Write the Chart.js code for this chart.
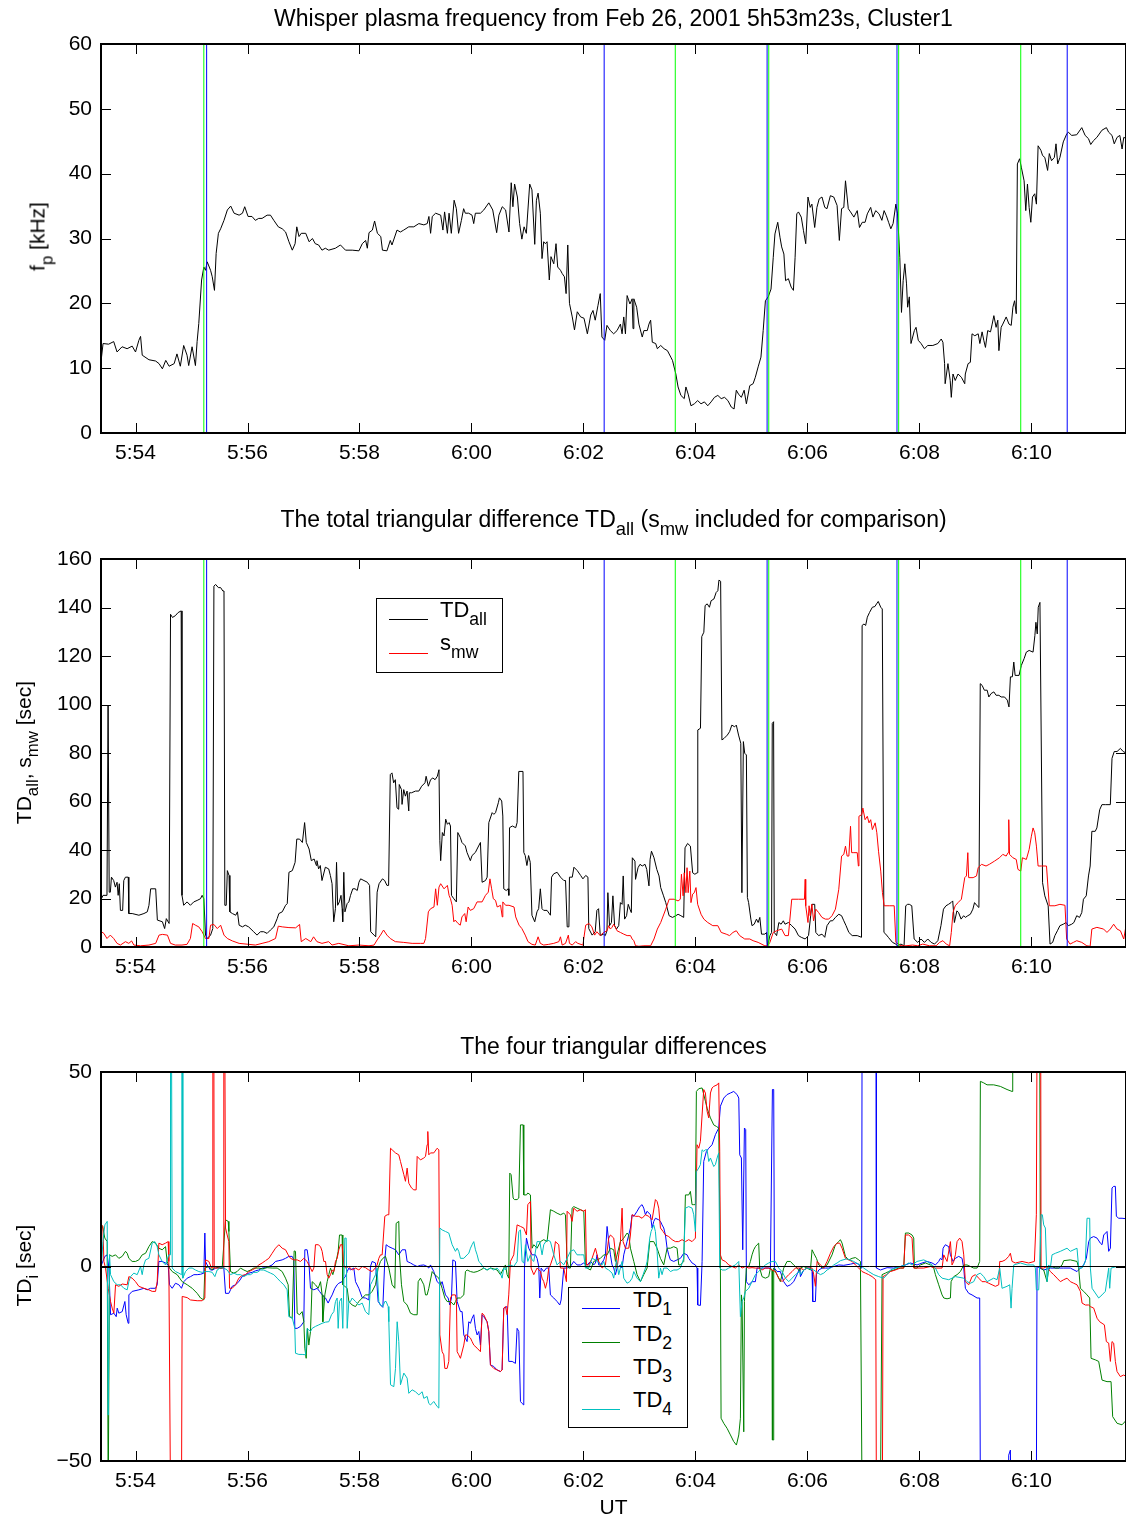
<!DOCTYPE html>
<html><head><meta charset="utf-8">
<script src="https://cdn.jsdelivr.net/npm/chart.js@4.4.1/dist/chart.umd.min.js"></script>
<style>
html,body{margin:0;padding:0;background:#fff;overflow:hidden;}
#wrap{position:relative;width:1126px;height:1520px;font-family:"Liberation Sans",Arial,Helvetica,sans-serif;color:#000;}
canvas{position:absolute;left:0;}
.t{position:absolute;white-space:nowrap;line-height:1;}
.ttl{left:101px;width:1025px;text-align:center;font-size:23px;}
.yl{width:400px;text-align:center;font-size:21px;transform:rotate(-90deg);transform-origin:50% 50%;}
sub{font-size:0.8em;vertical-align:-0.45em;line-height:0;}
.leg{position:absolute;border:1.5px solid #000;background:#fff;box-sizing:border-box;}
.ll{position:absolute;height:0;border-top:1px solid;}
.lt{position:absolute;font-size:22px;line-height:1;white-space:nowrap;}
</style></head>
<body><div id="wrap">
<canvas id="c1" width="1126" height="480" style="top:0px"></canvas>
<canvas id="c2" width="1126" height="500" style="top:490px"></canvas>
<canvas id="c3" width="1126" height="520" style="top:1000px"></canvas>

<div class="t ttl" style="top:7px">Whisper plasma frequency from Feb 26, 2001 5h53m23s, Cluster1</div>
<div class="t ttl" style="top:508px">The total triangular difference TD<sub>all</sub> (s<sub>mw</sub> included for comparison)</div>
<div class="t ttl" style="top:1035px">The four triangular differences</div>
<div class="t" style="left:101px;width:1025px;text-align:center;font-size:21px;top:1496px">UT</div>

<div class="t yl" style="left:-163px;top:226px">f<sub>p</sub> [kHz]</div>
<div class="t yl" style="left:-177px;top:742px">TD<sub>all</sub>, s<sub>mw</sub> [sec]</div>
<div class="t yl" style="left:-177px;top:1255px">TD<sub>i</sub> [sec]</div>

<div class="leg" style="left:376px;top:598px;width:127px;height:75px"></div>
<div class="ll" style="left:389px;width:39px;top:619px;border-color:#000"></div>
<div class="ll" style="left:389px;width:39px;top:653px;border-color:#ff0000"></div>
<div class="lt" style="left:440px;top:599px">TD<sub>all</sub></div>
<div class="lt" style="left:440px;top:632px">s<sub>mw</sub></div>

<div class="leg" style="left:568px;top:1287px;width:120px;height:141px"></div>
<div class="ll" style="left:582px;width:38px;top:1308px;border-color:#0000ff"></div>
<div class="ll" style="left:582px;width:38px;top:1342px;border-color:#008000"></div>
<div class="ll" style="left:582px;width:38px;top:1376px;border-color:#ff0000"></div>
<div class="ll" style="left:582px;width:38px;top:1409px;border-color:#00bfbf"></div>
<div class="lt" style="left:633px;top:1289px">TD<sub>1</sub></div>
<div class="lt" style="left:633px;top:1323px">TD<sub>2</sub></div>
<div class="lt" style="left:633px;top:1356px">TD<sub>3</sub></div>
<div class="lt" style="left:633px;top:1389px">TD<sub>4</sub></div>
</div>
<script>
// time axis: minutes after 5:54:00 UT
const X_MIN = -37/60, X_MAX = 17.69;
const xTickPos = [0,2,4,6,8,10,12,14,16];
const xTickLabels = ['5:54','5:56','5:58','6:00','6:02','6:04','6:06','6:08','6:10'];
const fpTicks = [0,10,20,30,40,50,60];
const tdAllTicks = [0,20,40,60,80,100,120,140,160];
const tdiTicks = [-50,0,50];
const blueMarks = [1.27, 8.37, 11.28, 13.60, 16.64];
const greenMarks = [1.22, 9.64, 11.31, 13.63, 15.81];

const fpData = [[-0.61,11.5],[-0.58,13.8],[-0.48,13.7],[-0.39,14.1],[-0.33,12.5],[-0.24,13.3],[-0.15,13.0],[-0.06,13.4],[0,12.5],[0.06,14.3],[0.09,14.9],[0.12,12.0],[0.24,11.3],[0.36,11.1],[0.42,10.7],[0.48,9.9],[0.54,11.2],[0.60,10.3],[0.69,10.7],[0.74,12.2],[0.80,10.3],[0.86,13.5],[0.92,12.0],[0.95,10.4],[1.01,13.3],[1.07,10.4],[1.10,14.1],[1.13,16.9],[1.18,23.6],[1.22,25.6],[1.25,25.1],[1.28,26.4],[1.34,25.1],[1.37,24.1],[1.41,22.0],[1.44,27.7],[1.48,30.8],[1.52,31.5],[1.58,32.8],[1.64,34.4],[1.70,35.0],[1.76,33.9],[1.85,33.6],[1.91,33.9],[1.95,34.9],[2.01,33.4],[2.08,33.4],[2.14,32.8],[2.20,33.1],[2.26,33.1],[2.35,33.6],[2.41,33.6],[2.47,32.8],[2.55,31.8],[2.62,31.5],[2.68,31.0],[2.74,29.5],[2.80,28.2],[2.85,29.2],[2.88,31.8],[2.92,30.3],[2.96,30.8],[3.04,30.8],[3.10,29.5],[3.16,30.0],[3.21,29.2],[3.27,29.0],[3.33,28.2],[3.39,28.5],[3.45,28.2],[3.57,28.5],[3.66,29.0],[3.75,28.2],[3.87,28.2],[3.99,28.1],[4.05,29.2],[4.11,29.7],[4.14,28.5],[4.17,30.9],[4.23,31.3],[4.27,32.7],[4.32,30.8],[4.38,30.3],[4.41,28.2],[4.49,28.1],[4.55,29.7],[4.58,29.0],[4.67,31.3],[4.73,31.0],[4.79,31.3],[4.88,31.8],[4.97,31.8],[5.06,32.3],[5.15,32.1],[5.21,32.3],[5.24,33.4],[5.27,30.8],[5.30,33.4],[5.36,33.9],[5.45,33.6],[5.49,31.3],[5.52,34.1],[5.57,30.8],[5.60,33.9],[5.64,30.8],[5.69,35.9],[5.73,34.6],[5.77,30.8],[5.82,32.8],[5.86,34.6],[5.89,33.9],[5.95,33.9],[6.01,33.6],[6.04,32.3],[6.07,33.9],[6.16,33.9],[6.22,34.4],[6.31,35.5],[6.38,34.4],[6.45,30.9],[6.49,33.6],[6.55,34.9],[6.61,34.4],[6.67,31.0],[6.71,38.6],[6.74,34.9],[6.77,38.4],[6.82,36.4],[6.86,32.3],[6.90,29.9],[6.94,31.8],[6.98,30.8],[7.04,38.4],[7.08,37.5],[7.13,29.1],[7.16,35.9],[7.19,37.0],[7.23,33.9],[7.26,26.9],[7.29,29.5],[7.32,29.2],[7.35,29.5],[7.39,23.6],[7.42,27.2],[7.47,26.1],[7.51,29.2],[7.54,25.6],[7.59,25.1],[7.62,24.6],[7.66,24.1],[7.69,21.5],[7.72,29.0],[7.75,20.0],[7.80,17.9],[7.84,15.9],[7.89,18.7],[7.95,17.9],[8.01,17.7],[8.07,15.3],[8.13,18.2],[8.17,18.9],[8.21,17.4],[8.26,19.7],
[8.30,21.5],[8.33,14.8],[8.38,14.3],[8.42,16.6],[8.48,15.8],[8.54,15.3],[8.60,15.8],[8.66,16.8],[8.69,15.3],[8.72,17.9],[8.75,15.3],[8.78,21.2],[8.83,19.9],[8.87,20.7],[8.885,16.1],[8.90,20.7],[8.95,19.4],[8.99,16.8],[9.05,14.8],[9.08,15.8],[9.14,15.8],[9.17,16.8],[9.20,17.4],[9.23,14.0],[9.29,13.8],[9.32,13.0],[9.38,13.5],[9.44,13.0],[9.50,12.7],[9.56,11.7],[9.59,11.2],[9.65,9.1],[9.69,7.1],[9.74,5.8],[9.80,5.3],[9.83,7.1],[9.87,6.0],[9.92,4.2],[9.98,4.5],[10.04,5.0],[10.10,4.5],[10.16,4.8],[10.22,4.2],[10.28,4.8],[10.34,5.5],[10.40,5.8],[10.46,5.3],[10.52,5.5],[10.58,5.0],[10.64,4.0],[10.69,3.7],[10.73,6.6],[10.77,6.0],[10.82,5.5],[10.87,6.6],[10.91,4.5],[10.97,7.3],[11.03,7.6],[11.07,8.6],[11.12,10.2],[11.17,11.7],[11.21,15.8],[11.25,20.4],[11.30,21.0],[11.35,22.2],[11.39,27.1],[11.42,30.7],[11.47,32.5],[11.51,30.2],[11.54,28.7],[11.58,27.6],[11.61,23.5],[11.66,23.8],[11.71,22.5],[11.75,22.0],[11.78,27.1],[11.81,33.8],[11.84,34.1],[11.89,33.3],[11.93,31.2],[11.97,29.2],[12.01,36.4],[12.05,34.8],[12.08,35.3],[12.13,31.7],[12.17,34.8],[12.21,36.1],[12.26,36.4],[12.31,34.8],[12.35,34.6],[12.41,36.6],[12.47,36.4],[12.53,35.1],[12.57,29.7],[12.61,34.6],[12.65,34.8],[12.68,38.9],[12.73,34.6],[12.77,34.1],[12.83,33.3],[12.89,34.3],[12.93,31.7],[12.98,32.5],[13.03,32.5],[13.07,33.8],[13.13,34.8],[13.17,33.3],[13.22,34.3],[13.28,33.8],[13.33,32.8],[13.37,34.3],[13.41,33.5],[13.45,32.5],[13.49,31.5],[13.53,32.3],[13.58,35.3],[13.61,33.8],[13.65,27.1],[13.68,18.6],[13.71,23.5],[13.74,26.1],[13.77,23.0],[13.79,19.4],[13.82,21.0],[13.85,13.8],[13.91,15.8],[13.94,16.3],[13.98,14.3],[14.03,13.8],[14.09,13.0],[14.15,13.5],[14.24,13.5],[14.33,13.8],[14.39,14.5],[14.42,14.0],[14.45,10.7],[14.46,7.6],[14.51,10.7],[14.55,8.1],[14.57,5.5],[14.60,9.1],[14.64,8.1],[14.69,9.1],[14.75,8.6],[14.81,7.6],[14.82,9.1],[14.87,10.7],[14.91,10.9],[14.94,15.3],[14.99,15.0],[15.05,15.3],[15.08,13.8],[15.12,15.6],[15.15,14.3],[15.18,13.2],[15.22,15.8],[15.27,15.6],[15.30,16.8],[15.33,18.1],[15.37,16.3],[15.40,17.4],[15.42,12.7],[15.46,16.3],[15.49,16.8],[15.55,17.9],[15.60,16.8],[15.64,16.6],[15.67,19.4],[15.70,20.4],[15.73,18.4],[15.75,41.5],[15.79,42.3],[15.82,41.0],[15.87,38.9],[15.90,34.3],[15.93,38.4],[15.96,34.8],[15.99,32.5],[16.02,36.4],[16.06,36.9],[16.09,35.3],[16.12,44.3],[16.17,43.6],[16.20,42.8],[16.24,42.5],[16.29,40.5],[16.32,43.1],[16.36,42.0],[16.41,42.5],[16.44,44.6],[16.47,41.5],[16.51,42.5],[16.57,44.9],[16.63,46.1],[16.66,46.4],[16.72,45.9],[16.81,46.0],[16.90,47.1],[16.96,45.9],[17.02,45.4],[17.06,44.5],[17.11,45.1],[17.17,45.6],[17.26,46.7],[17.34,47.1],[17.38,46.4],[17.44,45.9],[17.48,44.6],[17.53,45.6],[17.58,45.9],[17.62,43.8],[17.65,45.6],[17.70,45.4]];

const tdAllData = [[-0.61,19.9],[-0.58,21.3],[-0.51,21.3],[-0.49,99.7],[-0.48,99.7],[-0.47,22.6],[-0.45,22.6],[-0.43,28.8],[-0.39,27.4],[-0.36,24.7],[-0.33,26.7],[-0.31,21.3],[-0.29,26.1],[-0.27,15.1],[-0.23,15.1],[-0.21,27.4],[-0.18,28.8],[-0.13,28.8],[-0.12,13.8],[-0.06,13.8],[0.06,13.1],[0.15,13.8],[0.21,14.5],[0.24,17.2],[0.27,24.0],[0.36,24.0],[0.39,11.1],[0.48,10.4],[0.52,7.6],[0.55,11.7],[0.60,9.7],[0.625,137.2],[0.66,135.9],[0.71,136.6],[0.76,137.9],[0.815,138.6],[0.83,21.3],[0.86,17.2],[0.92,18.6],[0.98,17.2],[1.04,18.6],[1.10,19.2],[1.16,19.9],[1.19,21.3],[1.22,19.9],[1.25,4.9],[1.28,3.5],[1.34,4.9],[1.38,7.6],[1.40,148.8],[1.43,149.5],[1.48,148.2],[1.52,148.2],[1.56,146.8],[1.58,146.8],[1.595,17.2],[1.62,17.2],[1.64,31.5],[1.67,29.5],[1.685,14.5],[1.73,13.8],[1.79,13.1],[1.82,14.5],[1.85,9.0],[1.91,8.3],[1.96,9.0],[2.02,8.3],[2.11,6.3],[2.17,4.9],[2.23,6.3],[2.29,6.3],[2.35,5.6],[2.41,7.0],[2.47,8.3],[2.53,11.7],[2.56,13.8],[2.62,14.5],[2.68,17.2],[2.71,17.9],[2.74,30.8],[2.80,31.5],[2.85,34.9],[2.88,44.5],[2.93,44.5],[2.98,43.1],[3.02,51.3],[3.05,43.1],[3.10,40.4],[3.14,35.6],[3.19,36.3],[3.23,33.6],[3.24,35.6],[3.27,32.2],[3.30,33.6],[3.33,27.4],[3.39,32.9],[3.45,32.2],[3.48,29.5],[3.51,26.1],[3.54,10.4],[3.57,15.8],[3.59,34.9],[3.61,17.2],[3.64,18.6],[3.67,21.3],[3.69,15.8],[3.70,10.4],[3.72,30.8],[3.74,14.5],[3.78,17.9],[3.81,18.6],[3.84,21.3],[3.88,24.0],[3.92,24.0],[3.96,23.3],[3.99,26.7],[4.02,28.1],[4.08,27.4],[4.14,26.7],[4.18,25.4],[4.20,6.3],[4.26,4.9],[4.29,4.2],[4.315,22.6],[4.35,26.1],[4.41,28.1],[4.45,27.4],[4.49,25.4],[4.52,25.4],[4.55,71.1],[4.58,71.8],[4.61,67.7],[4.64,69.0],[4.67,57.4],[4.70,56.8],[4.71,67.0],[4.75,64.9],[4.76,58.8],[4.79,64.9],[4.82,62.2],[4.85,64.3],[4.88,56.1],[4.89,63.6],[4.93,63.6],[5.00,64.3],[5.06,64.3],[5.11,66.3],[5.17,67.7],[5.19,70.4],[5.23,66.3],[5.27,69.0],[5.31,69.7],[5.35,69.0],[5.39,70.4],[5.42,73.1],[5.435,43.8],[5.45,35.6],[5.48,47.2],[5.51,45.8],[5.54,52.7],[5.57,50.6],[5.60,51.3],[5.625,49.9],[5.643,21.3],[5.685,19.9],[5.73,18.6],[5.756,47.2],[5.80,45.2],[5.83,43.1],[5.89,41.7],[5.92,39.0],[5.98,35.6],[6.01,37.7],[6.07,39.0],[6.10,40.4],[6.16,43.1],[6.19,26.7],[6.25,27.4],[6.28,28.8],[6.31,51.3],[6.37,55.4],[6.40,54.7],[6.43,55.4],[6.48,59.5],[6.50,61.5],[6.54,60.2],[6.56,54.0],[6.577,24.0],[6.62,23.3],[6.655,24.0],[6.667,21.3],[6.68,49.2],[6.73,49.9],[6.79,49.2],[6.815,51.3],[6.845,72.4],[6.92,72.4],[6.935,39.0],[6.96,37.7],[6.99,33.6],[7.02,37.7],[7.05,34.9],[7.08,13.1],[7.13,10.4],[7.17,14.5],[7.20,15.8],[7.23,24.0],[7.26,15.8],[7.29,15.1],[7.35,15.1],[7.41,13.1],[7.43,28.8],[7.47,30.2],[7.53,30.8],[7.59,28.8],[7.65,27.4],[7.68,27.4],[7.71,8.3],[7.74,8.3],[7.75,28.8],[7.80,28.8],[7.83,32.9],[7.89,31.5],[7.95,29.5],[7.99,28.1],[8.04,29.5],[8.08,28.8],[8.095,7.6],[8.155,4.9],[8.21,6.3],[8.24,15.1],[8.27,15.8],
[8.30,4.7],[8.36,5.3],[8.39,4.7],[8.42,6.7],[8.436,22.4],[8.466,8.8],[8.50,10.1],[8.526,21.1],[8.556,8.8],[8.59,7.4],[8.63,8.8],[8.66,18.3],[8.69,17.6],[8.71,29.3],[8.735,11.5],[8.77,12.9],[8.80,17.6],[8.83,15.6],[8.855,14.2],[8.873,36.8],[8.92,35.4],[8.93,27.9],[8.975,32.7],[9.01,34.1],[9.05,33.4],[9.10,34.1],[9.13,32.0],[9.17,25.2],[9.19,36.1],[9.215,39.5],[9.26,36.8],[9.31,32.0],[9.35,29.3],[9.38,24.5],[9.43,21.1],[9.47,18.3],[9.53,12.9],[9.59,12.2],[9.65,12.9],[9.69,13.5],[9.74,12.9],[9.79,12.2],[9.814,40.9],[9.86,42.7],[9.91,41.6],[9.95,30.6],[9.99,30.0],[10.03,30.6],[10.042,89.5],[10.09,90.2],[10.113,128.0],[10.15,129.8],[10.173,140.8],[10.21,141.5],[10.25,140.1],[10.28,142.8],[10.33,143.5],[10.37,146.2],[10.40,146.9],[10.42,151.3],[10.45,150.8],[10.473,85.4],[10.51,86.0],[10.57,87.4],[10.61,88.8],[10.65,91.5],[10.70,90.8],[10.73,91.5],[10.77,87.4],[10.81,84.0],[10.83,22.4],[10.856,84.7],[10.88,79.9],[10.91,79.2],[10.928,20.4],[10.95,18.3],[10.99,11.5],[11.01,8.8],[11.05,9.4],[11.09,11.5],[11.12,10.1],[11.15,12.2],[11.18,5.3],[11.24,5.3],[11.27,6.0],[11.288,0.3],[11.33,4.7],[11.36,6.0],[11.372,92.2],[11.396,92.9],[11.408,6.0],[11.45,4.7],[11.49,10.1],[11.53,9.4],[11.57,10.8],[11.60,9.4],[11.66,10.1],[11.72,8.8],[11.78,7.4],[11.84,4.7],[11.89,4.0],[11.96,3.3],[12.02,4.7],[12.08,17.6],[12.13,17.6],[12.15,6.0],[12.20,4.7],[12.26,5.3],[12.31,4.0],[12.35,8.8],[12.41,10.8],[12.45,10.8],[12.50,12.2],[12.56,13.5],[12.61,12.9],[12.65,10.8],[12.69,8.8],[12.74,6.0],[12.80,4.7],[12.89,4.7],[12.966,4.0],[12.977,132.6],[13.01,133.2],[13.04,132.6],[13.07,136.0],[13.11,138.0],[13.16,140.1],[13.205,140.4],[13.235,141.5],[13.265,142.5],[13.31,140.1],[13.337,139.4],[13.367,6.0],[13.40,5.3],[13.445,4.0],[13.52,1.9],[13.58,1.2],[13.61,0.5],[13.67,1.2],[13.726,0.5],[13.756,17.0],[13.79,17.6],[13.82,17.6],[13.864,17.0],[13.906,3.3],[13.97,1.9],[14.03,3.3],[14.09,1.9],[14.15,3.3],[14.21,1.9],[14.27,1.2],[14.33,2.6],[14.385,8.8],[14.43,15.6],[14.475,17.0],[14.52,17.6],[14.565,18.3],[14.595,19.0],[14.625,10.1],[14.67,14.9],[14.70,14.2],[14.745,11.5],[14.79,12.9],[14.82,12.2],[14.865,12.9],[14.91,13.5],[14.955,15.6],[14.985,18.3],[15.03,17.0],[15.063,16.3],[15.087,108.6],[15.12,107.9],[15.16,105.9],[15.21,105.9],[15.24,103.1],[15.28,104.5],[15.33,105.2],[15.37,103.8],[15.42,103.8],[15.46,103.1],[15.52,103.1],[15.57,101.8],[15.60,99.0],[15.626,111.4],[15.66,111.4],[15.686,117.5],[15.71,112.0],[15.78,112.0],[15.82,116.1],[15.87,118.9],[15.91,121.6],[15.96,122.3],[16.03,121.6],[16.063,128.5],[16.081,133.9],[16.105,129.1],[16.123,140.1],[16.153,142.1],[16.20,26.5],[16.24,21.1],[16.30,17.0],[16.333,1.2],[16.38,1.9],[16.42,4.7],[16.465,6.7],[16.51,8.8],[16.57,9.4],[16.62,10.1],[16.66,8.8],[16.72,9.4],[16.76,10.1],[16.81,12.9],[16.86,12.2],[16.90,14.2],[16.93,19.7],[16.98,21.1],[17.02,29.3],[17.05,33.4],[17.08,47.7],[17.14,47.7],[17.17,49.1],[17.22,56.6],[17.26,58.7],[17.32,58.7],[17.41,58.7],[17.44,77.8],[17.48,80.6],[17.53,80.6],[17.59,81.9],[17.64,80.6],[17.70,79.9]];

const smwData = [[-0.61,6.3],[-0.565,5.6],[-0.51,3.5],[-0.45,4.9],[-0.39,3.5],[-0.33,1.5],[-0.27,0.8],[-0.18,2.2],[-0.12,1.5],[-0.07,2.5],[-0.03,0.8],[0.09,0.5],[0.24,0.8],[0.36,1.5],[0.42,4.9],[0.48,5.2],[0.57,4.9],[0.625,1.5],[0.71,0.8],[0.83,0.8],[0.92,1.1],[0.98,3.5],[1.02,9.7],[1.07,9.0],[1.13,8.3],[1.19,6.3],[1.25,3.5],[1.31,3.5],[1.34,9.0],[1.40,9.3],[1.46,7.6],[1.52,9.0],[1.58,4.9],[1.64,3.5],[1.73,2.5],[1.85,1.5],[2.02,1.1],[2.14,0.8],[2.26,1.5],[2.38,2.2],[2.50,3.5],[2.55,8.6],[2.62,8.3],[2.74,8.0],[2.86,7.9],[2.93,9.3],[2.96,2.2],[3.04,3.5],[3.13,2.2],[3.18,4.2],[3.24,2.2],[3.33,1.5],[3.45,2.2],[3.51,0.8],[3.63,1.5],[3.81,0.5],[3.99,0.8],[4.17,0.5],[4.26,0.8],[4.315,2.9],[4.375,4.9],[4.43,7.0],[4.49,4.9],[4.55,3.5],[4.64,2.2],[4.79,1.9],[4.94,1.5],[5.09,1.5],[5.15,1.5],[5.18,3.5],[5.23,14.5],[5.27,15.8],[5.33,16.5],[5.36,24.0],[5.39,17.2],[5.42,24.7],[5.45,26.1],[5.51,24.0],[5.57,25.4],[5.60,21.3],[5.625,19.9],[5.655,17.2],[5.685,10.4],[5.71,11.1],[5.76,9.7],[5.80,9.0],[5.83,12.4],[5.88,13.8],[5.905,10.4],[5.94,16.5],[5.98,15.1],[6.04,15.8],[6.10,18.6],[6.19,18.6],[6.25,21.3],[6.30,22.6],[6.33,28.1],[6.36,24.0],[6.39,19.9],[6.43,19.2],[6.46,16.5],[6.52,17.2],[6.55,12.4],[6.56,18.6],[6.61,17.2],[6.67,17.2],[6.76,16.5],[6.79,12.4],[6.85,9.0],[6.90,7.6],[6.96,4.9],[7.01,2.2],[7.08,1.1],[7.14,0.8],[7.19,4.2],[7.23,1.5],[7.29,0.8],[7.38,1.1],[7.47,1.5],[7.56,2.2],[7.59,4.2],[7.62,0.8],[7.68,1.5],[7.73,4.9],[7.75,1.5],[7.80,0.8],[7.86,2.2],[7.90,1.5],[7.99,0.8],[8.04,9.0],[8.10,9.7],[8.15,8.3],[8.20,4.9],[8.24,6.3],
[8.30,4.7],[8.36,6.0],[8.42,6.7],[8.45,8.8],[8.48,7.4],[8.51,8.1],[8.54,9.4],[8.57,8.1],[8.60,6.7],[8.66,6.0],[8.72,5.3],[8.78,4.7],[8.84,4.7],[8.87,3.3],[8.90,2.6],[8.93,0.5],[8.99,0.3],[9.08,0.5],[9.20,0.5],[9.26,3.3],[9.32,7.4],[9.38,10.1],[9.47,15.6],[9.53,19.7],[9.62,19.7],[9.69,19.0],[9.73,19.7],[9.75,30.0],[9.78,21.1],[9.80,30.6],[9.83,22.4],[9.85,32.7],[9.87,22.4],[9.90,31.3],[9.92,18.3],[9.95,21.8],[9.98,22.4],[10.01,24.5],[10.04,17.6],[10.10,13.5],[10.15,11.5],[10.22,10.1],[10.31,8.8],[10.40,8.8],[10.46,6.0],[10.55,5.3],[10.61,4.7],[10.67,6.0],[10.73,6.7],[10.79,4.7],[10.88,3.3],[10.97,3.3],[11.03,2.6],[11.12,1.9],[11.24,0.5],[11.29,0.5],[11.33,1.9],[11.39,6.0],[11.45,6.7],[11.54,7.4],[11.60,4.7],[11.66,4.7],[11.72,19.7],[11.84,19.7],[11.947,19.7],[11.96,27.9],[11.97,17.0],[12.01,10.1],[12.03,17.0],[12.05,12.9],[12.08,17.6],[12.11,10.8],[12.15,15.6],[12.20,14.2],[12.26,12.2],[12.32,11.5],[12.38,11.5],[12.44,12.9],[12.50,15.6],[12.56,23.8],[12.61,37.5],[12.65,38.2],[12.68,41.6],[12.71,37.5],[12.74,37.5],[12.77,49.8],[12.79,38.9],[12.83,38.9],[12.89,38.9],[12.91,33.4],[12.92,53.9],[12.97,54.6],[12.99,57.3],[13.03,52.5],[13.07,53.9],[13.10,51.2],[13.13,52.5],[13.16,48.4],[13.21,51.2],[13.24,47.1],[13.27,39.5],[13.31,31.3],[13.34,22.4],[13.37,17.0],[13.46,17.0],[13.55,17.0],[13.58,1.9],[13.67,0.5],[13.76,0.5],[13.88,0.8],[13.97,0.5],[14.06,1.2],[14.18,0.5],[14.30,0.5],[14.36,1.9],[14.42,2.6],[14.48,1.2],[14.54,0.5],[14.57,6.0],[14.60,14.2],[14.64,17.0],[14.69,18.3],[14.75,19.7],[14.81,28.6],[14.84,29.3],[14.865,38.9],[14.88,28.6],[14.96,28.6],[15.02,29.3],[15.05,32.7],[15.11,34.1],[15.19,33.4],[15.25,34.1],[15.34,35.4],[15.43,36.8],[15.49,38.2],[15.55,37.5],[15.584,38.9],[15.596,52.5],[15.61,38.2],[15.67,36.8],[15.73,36.1],[15.76,32.0],[15.81,31.3],[15.84,36.8],[15.91,36.1],[15.96,40.2],[16.00,45.7],[16.03,49.1],[16.06,47.1],[16.09,41.6],[16.12,33.4],[16.18,33.4],[16.27,33.4],[16.32,17.0],[16.42,17.0],[16.51,17.6],[16.60,17.2],[16.63,3.3],[16.69,1.2],[16.75,1.9],[16.81,2.6],[16.90,1.9],[16.99,0.5],[17.05,0.3],[17.08,7.4],[17.17,8.1],[17.29,7.4],[17.35,6.0],[17.41,7.4],[17.47,9.4],[17.53,7.4],[17.59,6.7],[17.65,3.3],[17.68,7.4]];

const td1Data = [[-0.607,0.4],[-0.595,0.9],[-0.548,2.6],[-0.506,3.0],[-0.476,-0.4],[-0.446,-12.4],[-0.387,-12.0],[-0.345,-12.9],[-0.327,-10.7],[-0.298,-12.0],[-0.238,-11.6],[-0.190,-9.0],[-0.167,-12.4],[-0.131,-14.6],[-0.119,-7.3],[-0.060,-6.4],[0.060,-6.0],[0.149,-5.6],[0.208,-6.0],[0.268,-5.6],[0.357,-5.6],[0.387,-4.7],[0.417,1.3],[0.476,1.3],[0.536,0.9],[0.583,0.4],[0.607,-4.7],[0.655,-5.6],[0.714,-4.3],[0.774,-4.7],[0.821,-5.6],[0.863,-3.9],[0.923,-3.0],[0.982,-2.6],[1.042,-2.1],[1.101,-2.1],[1.161,-2.0],[1.220,-1.7],[1.238,8.6],[1.250,1.3],[1.280,0.4],[1.339,-0.9],[1.381,-0.9],[1.429,-0.4],[1.476,-0.3],[1.518,-0.4],[1.577,-0.3],[1.607,-6.9],[1.667,-6.9],[1.696,-6.0],[1.726,-5.1],[1.786,-4.7],[1.845,-3.9],[1.905,-2.6],[1.964,-2.1],[2.024,-1.7],[2.083,-1.5],[2.143,-1.1],[2.202,-0.9],[2.262,-0.4],[2.321,-0.3],[2.381,0],[2.440,0.4],[2.500,1.3],[2.560,1.5],[2.619,1.7],[2.679,2.1],[2.738,2.6],[2.798,2.6],[2.827,1.7],[2.845,-15.9],[2.887,-15.9],[2.946,-15.4],[3.006,-14.2],[3.024,4.3],[3.065,4.3],[3.095,1.3],[3.125,-5.6],[3.185,-6.0],[3.244,-5.6],[3.286,-6.4],[3.333,-7.3],[3.393,-8.1],[3.440,-9.4],[3.482,-8.1],[3.512,-7.3],[3.560,-5.6],[3.601,-4.7],[3.631,-4.3],[3.690,-3.9],[3.720,-3.0],[3.750,-2.6],[3.780,-1.3],[3.810,-0.4],[3.839,-0.9],[3.899,-0.4],[3.929,-3.9],[3.988,-5.6],[4.048,-8.0],[4.107,-8.1],[4.167,-8.6],[4.196,0],[4.226,1.3],[4.286,0.9],[4.333,-9.0],[4.375,-9.9],[4.417,-10.5],[4.452,1.7],[4.476,5.6],[4.524,5.1],[4.583,4.7],[4.643,4.3],[4.702,3.0],[4.762,4.3],[4.821,4.3],[4.851,1.3],[4.911,0.9],[4.970,0.4],[5.030,0],[5.089,0.3],[5.149,0.4],[5.208,0],[5.238,-0.4],[5.268,0.4],[5.327,-1.3],[5.387,-3.9],[5.446,-4.7],[5.476,-3.9],[5.506,-5.6],[5.536,-7.3],[5.583,-8.1],[5.613,-9.9],[5.643,-8.1],[5.667,1.7],[5.714,1.3],
[5.744,-9.0],[5.803,-11.6],[5.833,-11.6],[5.863,-17.6],[5.922,-19.3],[5.952,-14.2],[5.982,-14.6],[6.011,-13.3],[6.041,-12.4],[6.071,-15.9],[6.101,-17.6],[6.131,-16.7],[6.160,-20.2],[6.190,-12.4],[6.220,-12.9],[6.279,-14.2],[6.309,-16.7],[6.339,-25.3],[6.398,-25.7],[6.458,-26.6],[6.517,-27.0],[6.547,-26.6],[6.577,-10.7],[6.637,-10.3],[6.666,-24.4],[6.726,-24.4],[6.785,-24.9],[6.815,-15.9],[6.845,-16.7],[6.875,-34.7],[6.904,-35.2],[6.934,-35.6],[6.946,-0.4],[6.982,7.3],[7.023,4.7],[7.083,3.0],[7.142,3.0],[7.172,2.1],[7.202,0],[7.220,-8.1],[7.244,-0.4],[7.291,-1.3],[7.339,-0.4],[7.380,-0.4],[7.410,-7.3],[7.470,-8.1],[7.529,-9.0],[7.577,-9.9],[7.601,-8.6],[7.648,-0.4],[7.708,-0.4],[7.767,0],[7.827,1.3],[7.886,0.4],[7.946,0.4],[8.006,0.9],[8.065,0.4],[8.125,1.3],[8.184,0.4],[8.214,0.9],[8.244,3.0],[8.273,0.4],[8.303,0.4],[8.363,1.7],[8.392,3.0],[8.422,10.3],[8.452,6.4],[8.482,3.0],[8.511,0.4],[8.541,-0.4],[8.571,-2.1],[8.601,-0.4],[8.660,0.4],[8.690,-0.4],[8.720,3.0],[8.779,6.4],[8.809,8.1],[8.839,9.9],[8.869,13.3],[8.899,12.9],[8.958,14.2],[9.006,15.4],[9.047,15.9],[9.077,15.0],[9.107,13.3],[9.137,14.2],[9.196,13.3],[9.226,9.9],[9.256,11.6],[9.285,12.4],[9.345,12.0],[9.375,11.6],[9.404,10.7],[9.434,9.9],[9.464,8.1],[9.494,4.7],[9.523,3.0],[9.553,1.7],[9.613,1.3],[9.672,1.7],[9.732,2.1],[9.791,3.4],[9.851,3.0],[9.880,2.1],[9.940,0.9],[9.999,0.4],[10.029,-0.4],[10.041,-9.9],[10.089,-10.0],[10.119,1.3],[10.148,27.0],[10.196,29.6],[10.238,30.4],[10.297,31.3],[10.357,33.9],[10.416,35.6],[10.446,41.2],[10.506,43.3],[10.565,44.2],[10.625,44.6],[10.684,45.0],[10.744,44.2],[10.774,43.3],[10.791,28.7],[10.821,27.9],[10.845,4.3],[10.875,35.6],[10.898,35.2],[10.910,-3.9],[10.952,-4.7],[11.011,-3.9],[11.071,-3.9],[11.101,-0.4],[11.160,-0.4],[11.220,-0.4],[11.279,-0.4],[11.339,-0.4],[11.375,45.5],[11.398,45.5],[11.410,-0.4],[11.458,-1.3],[11.517,-1.3],[11.577,-3.9],[11.636,-5.1],[11.696,-4.7],[11.755,-3.9],[11.815,-2.1],[11.863,-0.4],
[11.875,-2.6],[11.935,-0.9],[11.994,-0.4],[12.054,-0.4],[12.083,-1.3],[12.095,-9.0],[12.143,-9.0],[12.161,-2.1],[12.203,-0.9],[12.262,-0.4],[12.322,-0.4],[12.381,-0.4],[12.470,0],[12.560,0.4],[12.649,0.3],[12.768,0.6],[12.857,0.9],[12.917,0.6],[12.947,-0.4],[12.970,-0.4],[12.976,60],[13.226,60],[13.232,-0.4],[13.304,-0.9],[13.423,-0.3],[13.542,-0.4],[13.661,0],[13.750,0.4],[13.839,0.9],[13.958,0.4],[14.048,0.9],[14.137,1.3],[14.226,0.9],[14.286,0.4],[14.345,1.3],[14.375,2.1],[14.405,1.7],[14.423,4.7],[14.464,5.6],[14.524,5.1],[14.554,3.0],[14.601,1.3],[14.643,2.1],[14.702,2.6],[14.762,2.1],[14.792,-0.4],[14.821,-5.6],[14.881,-6.9],[14.940,-7.3],[15.030,-8.1],[15.077,-8.1],[15.089,-60],[15.583,-60],[15.595,-48.5],[15.625,-47.2],[15.637,-60],[16.089,-60],[16.101,0],[16.220,-0.9],[16.339,-0.4],[16.458,-0.4],[16.577,-0.4],[16.696,-0.4],[16.815,-1.3],[16.875,-0.4],[16.935,0.4],[16.982,2.1],[17.024,6.4],[17.054,7.3],[17.113,7.7],[17.173,7.3],[17.232,6.0],[17.262,5.6],[17.292,8.1],[17.351,9.0],[17.381,3.9],[17.411,4.7],[17.440,20.2],[17.470,20.6],[17.500,20.6],[17.518,12.9],[17.560,12.4],[17.619,12.4],[17.679,12.3]];

const td2Data = [[-0.607,10.7],[-0.583,9.9],[-0.548,7.3],[-0.506,6.4],[-0.488,-60],[-0.476,-60],[-0.464,3.0],[-0.417,2.6],[-0.357,3.0],[-0.298,2.1],[-0.238,2.6],[-0.179,3.9],[-0.149,3.4],[-0.119,2.1],[-0.060,1.3],[0,1.3],[0.060,1.7],[0.119,3.0],[0.179,3.4],[0.238,5.1],[0.298,6.4],[0.357,6.0],[0.417,4.7],[0.476,4.3],[0.536,5.1],[0.565,1.3],[0.607,-0.4],[0.655,-1.3],[0.744,-2.1],[0.833,-3.9],[0.923,-4.7],[1.012,-5.6],[1.101,-6.9],[1.161,-8.1],[1.220,-8.6],[1.238,-0.4],[1.310,0],[1.369,-0.9],[1.417,0],[1.488,-0.4],[1.548,-0.4],[1.607,12.0],[1.655,11.6],[1.667,9.0],[1.696,-1.3],[1.756,-1.7],[1.815,-1.3],[1.875,-0.4],[1.935,-0.9],[1.994,-1.3],[2.054,-0.9],[2.113,-0.4],[2.202,-0.4],[2.262,-0.6],[2.351,-0.3],[2.440,-0.4],[2.530,-0.4],[2.619,-1.3],[2.679,-3.0],[2.726,-4.7],[2.750,-12.9],[2.798,-13.3],[2.833,4.0],[2.857,3.9],[2.887,-12.0],[2.929,-12.4],[2.976,-11.6],[3.006,-14.2],[3.024,-21.0],[3.048,-23.6],[3.071,-15.9],[3.095,-20.2],[3.125,-16.7],[3.155,-3.9],[3.214,-4.7],[3.262,-5.6],[3.304,-3.9],[3.333,-7.3],[3.345,-14.2],[3.381,-7.3],[3.423,-3.9],[3.452,-2.1],[3.482,-0.4],[3.524,-2.1],[3.571,0.4],[3.619,3.9],[3.643,8.1],[3.690,8.1],[3.702,-4.7],[3.738,-5.1],[3.780,-5.6],[3.810,-9.0],[3.869,-9.9],[3.929,-10.3],[3.988,-9.0],[4.048,-8.1],[4.107,-7.3],[4.167,-7.3],[4.226,-6.4],[4.286,-4.7],[4.333,-0.4],[4.375,1.3],[4.417,2.1],[4.464,2.6],[4.524,-0.4],[4.583,-4.7],[4.631,-5.6],[4.655,11.1],[4.702,11.6],[4.714,3.0],[4.750,-4.7],[4.792,-9.0],[4.851,-9.9],[4.911,-12.0],[4.970,-12.4],[5.030,-12.4],[5.048,-3.9],[5.089,-3.0],[5.149,-4.7],[5.179,-7.3],[5.208,-7.3],[5.238,-5.6],[5.298,-1.3],[5.345,-2.1],[5.387,-2.6],[5.417,-3.0],[5.476,-5.6],[5.524,-8.1],[5.565,-9.0],[5.625,-9.0],[5.685,-9.9],[5.714,-9.0],
[5.744,-8.1],[5.803,-8.1],[5.863,-7.3],[5.892,-1.3],[5.922,-0.9],[5.982,-1.3],[6.041,-1.5],[6.101,-1.3],[6.160,-0.9],[6.220,-0.4],[6.279,-0.9],[6.339,-0.4],[6.398,-0.6],[6.458,-0.9],[6.517,-2.1],[6.577,-0.4],[6.607,0.4],[6.637,-2.1],[6.666,-3.0],[6.684,24.0],[6.708,23.6],[6.744,17.6],[6.767,17.2],[6.815,17.2],[6.845,17.6],[6.875,36.4],[6.922,36.4],[6.934,18.4],[6.982,18.4],[7.006,18.9],[7.053,18.4],[7.083,4.7],[7.113,5.6],[7.172,4.7],[7.232,6.4],[7.291,6.9],[7.351,6.4],[7.410,14.6],[7.470,14.2],[7.529,13.7],[7.589,13.3],[7.648,13.7],[7.678,13.3],[7.708,1.3],[7.738,-0.4],[7.767,-0.4],[7.797,15.0],[7.827,15.4],[7.886,15.0],[7.946,14.6],[8.006,14.2],[8.035,0.4],[8.065,-0.4],[8.125,-0.9],[8.184,1.3],[8.244,1.7],[8.303,2.1],[8.363,3.0],[8.422,3.0],[8.482,4.7],[8.541,4.3],[8.571,1.3],[8.601,3.0],[8.660,6.4],[8.720,7.3],[8.779,8.6],[8.809,8.1],[8.839,4.7],[8.899,1.3],[8.958,-2.1],[9.018,-3.9],[9.077,-2.1],[9.137,-0.4],[9.184,6.4],[9.256,6.4],[9.315,4.7],[9.375,2.1],[9.434,0.4],[9.494,4.7],[9.553,4.7],[9.613,5.1],[9.672,4.7],[9.702,0.4],[9.732,0.4],[9.791,1.3],[9.821,18.4],[9.880,18.4],[9.910,19.3],[9.940,15.9],[9.970,15.9],[9.999,15.9],[10.017,45.0],[10.059,45.7],[10.119,45.9],[10.178,42.5],[10.208,40.7],[10.268,38.2],[10.327,36.4],[10.375,36.0],[10.416,35.6],[10.446,-0.4],[10.458,-39.0],[10.506,-40.3],[10.565,-41.6],[10.625,-43.3],[10.684,-45.0],[10.732,-45.9],[10.774,-43.3],[10.803,-39.0],[10.821,-7.3],[10.833,-9.0],[10.863,-42.5],[10.875,-9.0],[10.910,-0.4],[10.952,0],[10.982,1.3],[11.011,3.0],[11.041,4.3],[11.071,5.1],[11.101,5.6],[11.130,6.0],[11.148,-0.4],[11.190,-2.6],[11.249,-3.0],[11.309,-2.6],[11.339,-0.4],[11.368,-0.9],[11.375,-44.6],[11.392,-44.6],[11.398,-0.4],[11.458,-2.1],[11.517,-3.9],[11.577,-0.4],[11.636,1.3],[11.696,1.3],[11.755,0.4],[11.815,-0.4],[11.863,-1.3],
[11.875,-0.4],[11.935,0],[11.994,-0.4],[12.054,-0.9],[12.083,4.3],[12.113,3.4],[12.161,2.1],[12.203,0.4],[12.262,-0.4],[12.351,0.4],[12.440,3.0],[12.500,5.6],[12.560,6.4],[12.589,6.9],[12.619,6.0],[12.679,2.6],[12.738,1.7],[12.798,2.1],[12.857,2.3],[12.917,1.7],[12.947,1.3],[12.976,-60],[13.304,-60],[13.333,-2.1],[13.393,-1.7],[13.452,-1.3],[13.542,-0.9],[13.631,-0.4],[13.720,-0.4],[13.750,8.6],[13.810,8.6],[13.869,8.1],[13.899,7.3],[13.911,-0.4],[13.958,-0.4],[14.018,0.4],[14.107,0.9],[14.196,0.4],[14.256,-0.4],[14.286,-2.1],[14.345,-4.7],[14.405,-7.3],[14.435,-8.1],[14.494,-8.3],[14.554,-8.1],[14.566,-3.9],[14.613,-2.6],[14.673,-2.1],[14.732,-1.3],[14.792,0.4],[14.851,0.4],[14.911,0],[14.970,-0.4],[15.030,-0.4],[15.077,1.3],[15.089,47.6],[15.149,47.2],[15.208,46.7],[15.327,46.7],[15.446,46.3],[15.565,45.5],[15.655,45.0],[15.667,60],[16.149,60],[16.161,-0.4],[16.220,-0.9],[16.280,-3.9],[16.310,-0.4],[16.369,0],[16.429,-0.4],[16.488,-0.4],[16.548,0.4],[16.577,1.5],[16.696,1.7],[16.815,1.3],[16.845,-0.4],[16.875,-5.6],[16.935,-6.4],[16.994,-7.3],[17.042,-8.1],[17.066,-23.6],[17.143,-24.0],[17.202,-24.4],[17.262,-29.2],[17.351,-29.6],[17.423,-29.6],[17.452,-38.6],[17.530,-40.3],[17.619,-40.7],[17.696,-39.5]];

const td3Data = [[-0.607,10.7],[-0.583,10.3],[-0.565,1.3],[-0.536,-0.4],[-0.488,-5.6],[-0.446,-9.0],[-0.417,-10.7],[-0.387,-12.0],[-0.357,-4.7],[-0.298,-5.1],[-0.238,-4.5],[-0.149,-4.7],[-0.119,-2.6],[-0.060,-3.0],[0,-3.9],[0.060,-5.1],[0.149,-5.6],[0.238,-6.0],[0.298,-6.4],[0.357,-6.4],[0.387,-3.9],[0.417,6.0],[0.476,5.6],[0.536,6.0],[0.583,6.4],[0.595,1.3],[0.625,-60],[0.821,-60],[0.833,-7.7],[0.923,-8.0],[0.982,-8.6],[1.101,-8.8],[1.190,-8.8],[1.238,-8.1],[1.250,1.7],[1.310,1.3],[1.357,-0.4],[1.375,-0.4],[1.381,60],[1.399,60],[1.405,-0.4],[1.458,-0.4],[1.548,-0.4],[1.571,-0.4],[1.577,60],[1.595,60],[1.607,9.9],[1.637,8.1],[1.667,6.4],[1.679,-5.6],[1.726,-5.6],[1.786,-4.7],[1.845,-3.0],[1.905,-2.3],[1.964,-2.1],[2.024,-1.3],[2.083,-0.9],[2.143,-0.4],[2.202,0.4],[2.262,0.9],[2.321,1.5],[2.381,2.1],[2.440,3.4],[2.500,4.7],[2.560,5.6],[2.619,4.7],[2.679,4.3],[2.726,3.0],[2.768,2.1],[2.827,1.7],[2.887,1.7],[2.946,1.3],[3.006,2.1],[3.065,1.3],[3.095,0.4],[3.125,-0.4],[3.155,-1.3],[3.185,-0.4],[3.214,5.6],[3.262,5.6],[3.304,5.1],[3.333,3.9],[3.363,1.3],[3.393,1.3],[3.423,-2.1],[3.452,-3.0],[3.482,-2.1],[3.512,-0.9],[3.542,-1.3],[3.571,1.3],[3.601,2.1],[3.631,4.3],[3.661,5.6],[3.690,5.6],[3.720,0.4],[3.750,-0.4],[3.810,0],[3.869,-0.9],[3.929,-0.4],[3.988,-0.9],[4.048,0],[4.107,-0.3],[4.167,-0.9],[4.226,-1.3],[4.286,-0.3],[4.315,0.4],[4.345,2.1],[4.375,3.0],[4.405,3.0],[4.452,12.9],[4.494,13.3],[4.524,13.3],[4.554,30.4],[4.583,30.0],[4.643,29.2],[4.702,28.7],[4.732,27.0],[4.762,25.3],[4.792,23.6],[4.821,21.9],[4.851,25.3],[4.881,21.4],[4.929,20.2],[4.970,19.7],[5.012,19.7],[5.030,28.3],[5.089,27.4],[5.149,27.9],[5.179,28.3],[5.208,31.3],[5.220,34.7],[5.238,28.7],[5.268,29.2],[5.327,29.2],[5.387,30.4],[5.417,30.0],[5.435,-17.6],[5.476,-21.9],[5.506,-22.7],[5.524,-26.2],[5.565,-26.2],[5.595,-24.4],[5.625,-8.1],[5.655,-7.3],[5.714,-7.3],
[5.732,-9.0],[5.744,-21.9],[5.773,-22.7],[5.803,-23.6],[5.863,-20.2],[5.892,-17.6],[5.922,-17.6],[5.982,-18.4],[6.011,-19.3],[6.041,-20.2],[6.101,-21.0],[6.160,-21.9],[6.190,-12.0],[6.220,-12.4],[6.279,-14.2],[6.309,-16.7],[6.339,-25.3],[6.398,-26.2],[6.458,-26.6],[6.517,-27.0],[6.547,-26.6],[6.577,-10.7],[6.607,-10.3],[6.637,-12.4],[6.666,-7.3],[6.696,1.3],[6.755,3.0],[6.815,10.7],[6.875,10.3],[6.934,9.9],[6.982,8.1],[7.006,15.9],[7.053,16.7],[7.065,-0.4],[7.113,-2.1],[7.172,-0.4],[7.232,-1.3],[7.261,-3.0],[7.291,-3.9],[7.321,-5.6],[7.351,-3.9],[7.380,-0.4],[7.410,0.4],[7.470,3.0],[7.499,6.4],[7.559,5.6],[7.589,-0.4],[7.648,-0.4],[7.696,-3.9],[7.708,14.2],[7.767,13.3],[7.797,11.6],[7.827,15.0],[7.886,14.2],[7.946,14.6],[8.006,14.2],[8.035,14.6],[8.053,0.4],[8.095,0.4],[8.154,2.1],[8.214,4.7],[8.273,1.3],[8.333,-0.4],[8.392,0.4],[8.452,7.3],[8.482,8.1],[8.541,7.3],[8.601,-0.4],[8.660,6.4],[8.690,15.0],[8.708,6.4],[8.750,4.7],[8.809,4.7],[8.839,8.1],[8.869,13.3],[8.928,12.9],[8.988,12.9],[9.047,12.4],[9.107,13.3],[9.166,12.9],[9.226,12.0],[9.285,17.2],[9.315,16.7],[9.345,15.0],[9.375,9.9],[9.422,9.0],[9.464,8.1],[9.523,7.7],[9.583,6.9],[9.642,6.4],[9.702,6.4],[9.761,6.9],[9.821,6.4],[9.880,6.9],[9.940,6.4],[9.999,7.3],[10.029,31.3],[10.059,30.4],[10.089,32.2],[10.148,45.5],[10.178,44.6],[10.208,39.9],[10.238,38.2],[10.268,44.6],[10.297,45.9],[10.327,46.3],[10.387,46.7],[10.416,47.2],[10.434,29.6],[10.446,3.0],[10.476,1.7],[10.535,1.3],[10.595,0.4],[10.654,0],[10.714,-0.4],[10.774,0.4],[10.833,-0.4],[10.893,0],[10.952,-0.4],[11.011,-0.3],[11.071,-0.4],[11.130,-0.4],[11.190,-0.9],[11.249,-0.4],[11.309,-0.4],[11.368,-0.9],[11.428,-1.3],[11.487,-3.0],[11.547,-3.9],[11.607,-3.0],[11.666,-2.1],[11.726,-1.3],[11.785,-0.4],[11.863,-0.4],
[11.875,-0.4],[11.935,-0.9],[11.994,-0.4],[12.083,-0.4],[12.113,-2.1],[12.143,-5.1],[12.173,1.3],[12.232,0.4],[12.292,-0.4],[12.351,1.3],[12.411,3.4],[12.470,5.1],[12.530,6.0],[12.577,6.0],[12.619,4.7],[12.679,2.1],[12.738,1.7],[12.798,1.3],[12.857,0.4],[12.917,-0.4],[12.976,-1.3],[13.036,-1.7],[13.095,-2.1],[13.155,-2.6],[13.220,-3.4],[13.232,-60],[13.339,-60],[13.351,-2.6],[13.411,-2.1],[13.482,-1.3],[13.571,-0.9],[13.661,-0.4],[13.720,-0.4],[13.750,8.1],[13.810,8.1],[13.869,7.3],[13.899,-0.4],[13.958,-0.4],[14.077,-0.4],[14.196,0],[14.286,-0.4],[14.405,-0.4],[14.435,3.0],[14.494,1.3],[14.554,6.4],[14.583,0.4],[14.613,1.3],[14.643,3.0],[14.673,6.4],[14.720,7.3],[14.762,6.4],[14.792,3.0],[14.821,-3.9],[14.881,-4.7],[14.940,-2.6],[15.000,-2.1],[15.060,-3.0],[15.119,-3.9],[15.179,-3.9],[15.238,-4.3],[15.298,-4.7],[15.357,-5.1],[15.417,-4.7],[15.435,1.3],[15.476,1.3],[15.536,1.7],[15.595,2.6],[15.625,3.4],[15.655,1.3],[15.714,0.9],[15.833,1.3],[15.952,0.9],[16.054,1.3],[16.089,13.3],[16.101,60],[16.167,60],[16.173,-0.4],[16.220,-0.4],[16.280,0],[16.339,-1.3],[16.399,-2.1],[16.458,-3.0],[16.518,-3.9],[16.577,-3.4],[16.637,-3.0],[16.696,-3.9],[16.756,-4.3],[16.815,-4.7],[16.875,-6.4],[16.905,-9.4],[16.964,-9.9],[17.024,-9.9],[17.054,-10.3],[17.113,-10.7],[17.173,-13.3],[17.220,-14.2],[17.262,-14.6],[17.304,-15.0],[17.339,-19.3],[17.381,-19.7],[17.411,-24.4],[17.440,-19.3],[17.470,-19.7],[17.500,-24.4],[17.530,-27.0],[17.589,-28.3],[17.649,-27.9],[17.696,-28.3]];

const td4Data = [[-0.607,0.4],[-0.583,6.4],[-0.548,10.7],[-0.506,11.6],[-0.488,-38.2],[-0.476,-38.2],[-0.464,3.0],[-0.446,-2.1],[-0.387,-3.9],[-0.327,-4.7],[-0.268,-4.7],[-0.208,-5.6],[-0.149,-6.0],[-0.119,-3.9],[-0.089,-2.6],[-0.030,-1.7],[0.030,-2.1],[0.089,0],[0.119,-2.1],[0.149,0.4],[0.179,1.7],[0.238,2.1],[0.298,6.0],[0.345,6.4],[0.387,5.1],[0.417,3.0],[0.476,1.3],[0.536,0.4],[0.565,1.7],[0.595,3.0],[0.619,3.0],[0.625,60],[0.643,60],[0.655,-0.4],[0.714,-1.3],[0.774,-1.7],[0.821,-2.1],[0.827,60],[0.839,60],[0.845,-3.0],[0.893,-1.3],[0.952,-0.4],[1.012,-0.4],[1.071,-0.9],[1.131,-1.3],[1.190,-1.5],[1.250,-1.3],[1.310,-1.3],[1.369,-1.5],[1.417,-2.6],[1.458,-0.9],[1.518,-0.3],[1.577,-0.4],[1.637,-0.9],[1.696,-2.1],[1.756,-1.7],[1.815,-2.1],[1.875,-2.1],[1.935,-2.6],[1.994,-2.1],[2.054,-2.1],[2.113,-1.5],[2.173,-1.5],[2.232,-0.9],[2.292,-0.9],[2.351,-1.3],[2.411,-1.7],[2.470,-2.1],[2.530,-3.0],[2.589,-3.9],[2.649,-4.7],[2.708,-6.0],[2.738,-12.9],[2.798,-13.1],[2.845,-15.9],[2.857,-22.3],[2.917,-22.6],[2.976,-22.6],[3.036,-22.7],[3.065,-15.9],[3.095,-16.3],[3.125,-16.7],[3.155,-15.9],[3.214,-15.4],[3.274,-15.0],[3.333,-14.6],[3.393,-14.3],[3.452,-14.2],[3.500,-12.4],[3.542,-11.6],[3.571,-9.0],[3.601,-8.1],[3.619,-15.9],[3.643,-9.0],[3.679,-8.1],[3.702,-15.9],[3.738,7.3],[3.762,7.3],[3.780,-15.9],[3.810,-9.0],[3.839,-9.0],[3.869,-8.1],[3.929,-9.0],[3.988,-9.9],[4.048,-9.4],[4.107,-11.6],[4.167,-12.4],[4.196,-4.7],[4.226,-3.9],[4.286,-2.1],[4.315,-0.4],[4.345,-9.0],[4.375,-9.9],[4.417,-10.3],[4.452,-9.0],[4.476,-9.0],[4.512,-10.3],[4.524,-14.2],[4.554,-30.4],[4.613,-30.9],[4.643,-26.2],[4.673,-14.2],[4.702,-19.3],[4.732,-30.4],[4.792,-27.4],[4.851,-28.7],[4.881,-32.6],[4.940,-31.7],[5.000,-32.2],[5.060,-33.0],[5.119,-32.2],[5.149,-33.9],[5.208,-33.4],[5.238,-35.2],[5.268,-35.6],[5.327,-34.7],[5.387,-36.0],[5.417,-36.4],[5.435,9.9],[5.476,9.4],[5.536,9.0],[5.595,8.6],[5.655,5.6],[5.714,3.9],
[5.744,4.7],[5.773,3.9],[5.803,2.1],[5.863,2.1],[5.922,3.0],[5.952,3.4],[5.982,4.7],[6.011,5.6],[6.041,6.4],[6.071,4.3],[6.101,3.0],[6.131,1.3],[6.160,0.9],[6.220,-0.4],[6.279,-0.9],[6.339,-0.4],[6.398,-0.9],[6.458,-0.4],[6.506,-1.3],[6.547,-3.0],[6.577,-0.4],[6.607,-0.9],[6.637,0],[6.696,0.4],[6.755,0],[6.815,1.3],[6.845,9.0],[6.875,9.4],[6.904,1.3],[6.934,0.9],[6.964,5.6],[7.006,1.3],[7.053,3.0],[7.083,1.7],[7.113,1.3],[7.172,6.4],[7.220,6.4],[7.261,3.0],[7.291,5.6],[7.351,6.9],[7.410,6.4],[7.470,3.0],[7.529,0.4],[7.589,1.3],[7.648,0.4],[7.708,2.1],[7.767,3.9],[7.827,4.3],[7.886,3.0],[7.946,3.0],[8.006,3.0],[8.035,-0.4],[8.095,-0.4],[8.154,2.1],[8.214,1.7],[8.273,0.9],[8.333,0.4],[8.363,1.3],[8.392,-0.4],[8.452,-0.9],[8.511,-1.7],[8.541,-3.0],[8.589,1.7],[8.630,-2.1],[8.660,-0.4],[8.690,1.3],[8.720,-3.0],[8.779,-4.3],[8.827,-3.9],[8.869,-3.0],[8.899,-1.3],[8.958,-3.0],[9.018,-3.9],[9.065,-2.1],[9.107,-0.4],[9.137,1.3],[9.184,7.3],[9.208,9.0],[9.256,10.7],[9.285,9.0],[9.315,3.9],[9.345,-3.0],[9.375,-0.4],[9.404,-2.1],[9.434,-0.4],[9.494,-0.4],[9.553,-1.3],[9.613,-0.9],[9.672,-0.9],[9.732,-0.4],[9.791,2.1],[9.821,15.0],[9.880,15.4],[9.940,15.0],[9.970,13.3],[9.999,9.0],[10.017,24.4],[10.059,25.3],[10.089,26.2],[10.119,30.0],[10.148,29.6],[10.178,30.0],[10.208,30.0],[10.238,27.0],[10.268,27.9],[10.327,25.7],[10.357,26.2],[10.387,27.9],[10.416,29.2],[10.434,-0.4],[10.476,-0.9],[10.535,-0.9],[10.595,-0.4],[10.654,0],[10.714,0.4],[10.774,1.3],[10.803,-12.9],[10.833,-9.0],[10.863,-8.1],[10.893,-6.4],[10.952,-5.6],[11.011,-3.9],[11.071,-2.1],[11.130,-1.3],[11.190,-0.4],[11.249,0.4],[11.309,0.9],[11.368,1.3],[11.428,1.3],[11.487,-0.4],[11.547,-1.3],[11.607,-3.0],[11.666,-3.9],[11.726,-3.0],[11.785,-2.1],[11.863,-1.3],
[11.875,-2.1],[11.935,-0.9],[11.994,-0.4],[12.113,-0.9],[12.232,-2.1],[12.292,-1.7],[12.351,-0.9],[12.411,-0.4],[12.470,0.4],[12.530,0.9],[12.589,1.5],[12.708,2.0],[12.827,1.3],[12.947,0.3],[13.006,-0.4],[13.095,-1.3],[13.185,-2.1],[13.274,-2.6],[13.363,-3.0],[13.423,-2.1],[13.482,-0.9],[13.571,-0.4],[13.661,0],[13.750,0.4],[13.810,0.9],[13.869,0.4],[13.958,1.3],[14.077,1.7],[14.137,1.3],[14.226,0.4],[14.286,-0.4],[14.345,-2.1],[14.405,-3.0],[14.524,-3.4],[14.643,-2.6],[14.792,-3.0],[14.851,-3.9],[14.911,-4.3],[14.970,-3.9],[15.030,-2.1],[15.089,-1.7],[15.149,-2.6],[15.208,-3.9],[15.327,-3.0],[15.387,-3.4],[15.435,-0.4],[15.476,-5.6],[15.565,-5.1],[15.613,-4.7],[15.637,-10.7],[15.655,-5.6],[15.685,0.4],[15.804,0.9],[15.923,0.4],[16.042,0.4],[16.071,-0.4],[16.089,-6.0],[16.131,-6.0],[16.149,0.4],[16.173,13.3],[16.196,13.3],[16.220,10.7],[16.250,9.9],[16.280,-3.9],[16.310,0.4],[16.339,-0.4],[16.369,3.0],[16.429,3.4],[16.518,3.9],[16.637,4.7],[16.696,3.9],[16.815,4.7],[16.845,-0.4],[16.905,-0.4],[16.964,1.3],[16.994,12.4],[17.042,12.4],[17.054,-0.4],[17.084,-5.6],[17.202,-8.1],[17.262,-7.3],[17.321,-6.4],[17.381,-0.4],[17.399,-5.6],[17.423,-0.4],[17.530,0],[17.696,0]];

const FONT = '"Liberation Sans", Arial, Helvetica, sans-serif';
const pts = a => a.map(p => ({x: p[0], y: p[1]}));
function lineDs(data, color, order, width) {
  return {data: pts(data), borderColor: color, borderWidth: width || 1, pointRadius: 0, tension: 0, fill: false, order: order};
}
function vlines(times, color, y0, y1, order) {
  return times.map(t => ({data: [{x: t, y: y0}, {x: t, y: y1}], borderColor: color, borderWidth: 1, pointRadius: 0, order: order}));
}
const framePlugin = {
  id: 'frame',
  afterDatasetsDraw(chart) {
    const {ctx, chartArea: a, scales: {x, y}} = chart;
    ctx.save();
    ctx.strokeStyle = '#000';
    ctx.lineWidth = 1;
    const L = 10;
    ctx.beginPath();
    x.ticks.forEach(t => {
      const px = Math.round(x.getPixelForValue(t.value)) + 0.5;
      ctx.moveTo(px, a.bottom); ctx.lineTo(px, a.bottom - L);
      ctx.moveTo(px, a.top); ctx.lineTo(px, a.top + L);
    });
    y.ticks.forEach(t => {
      const py = Math.round(y.getPixelForValue(t.value)) + 0.5;
      ctx.moveTo(a.left, py); ctx.lineTo(a.left + L, py);
      ctx.moveTo(a.right, py); ctx.lineTo(a.right - L, py);
    });
    ctx.stroke();
    ctx.lineWidth = 2;
    ctx.strokeRect(a.left, a.top, a.right - a.left, a.bottom - a.top);
    ctx.restore();
  }
};
function options(yMin, yMax, yTicks, padTop, axisH) {
  return {
    responsive: false, animation: false, devicePixelRatio: 1,
    layout: {padding: {top: padTop, left: 0, right: 0, bottom: 0}},
    plugins: {legend: {display: false}, tooltip: {enabled: false}, title: {display: false}},
    scales: {
      x: {
        type: 'linear', min: X_MIN, max: X_MAX,
        grid: {display: false, drawTicks: false}, border: {display: false},
        afterBuildTicks: s => { s.ticks = xTickPos.map(v => ({value: v})); },
        ticks: {padding: 8, color: '#000', font: {family: FONT, size: 21}, maxRotation: 0, autoSkip: false,
          callback: v => xTickLabels[xTickPos.indexOf(v)]},
        afterFit: s => { s.height = axisH; s.paddingLeft = 0; s.paddingRight = 0; }
      },
      y: {
        type: 'linear', min: yMin, max: yMax,
        grid: {display: false, drawTicks: false}, border: {display: false},
        afterBuildTicks: s => { s.ticks = yTicks.map(v => ({value: v})); },
        ticks: {padding: 9, color: '#000', font: {family: FONT, size: 21},
          callback: v => (v < 0 ? '\u2212' + Math.abs(v) : String(v))},
        afterFit: s => { s.width = 101; }
      }
    }
  };
}

new Chart(document.getElementById('c1'), {
  type: 'line',
  data: {datasets: [
    ...vlines(greenMarks, '#00ff00', 0, 60, 0),
    ...vlines(blueMarks, '#0000ff', 0, 60, 0),
    lineDs(fpData, '#000000', 1, 1)
  ]},
  options: options(0, 60, fpTicks, 44, 47),
  plugins: [framePlugin]
});

new Chart(document.getElementById('c2'), {
  type: 'line',
  data: {datasets: [
    ...vlines(greenMarks, '#00ff00', 0, 160, 0),
    ...vlines(blueMarks, '#0000ff', 0, 160, 0),
    lineDs(smwData, '#ff0000', 1, 1),
    lineDs(tdAllData, '#000000', 2, 1)
  ]},
  options: options(0, 160, tdAllTicks, 69, 43),
  plugins: [framePlugin]
});

new Chart(document.getElementById('c3'), {
  type: 'line',
  data: {datasets: [
    {data: [{x: X_MIN, y: 0}, {x: X_MAX, y: 0}], borderColor: '#000', borderWidth: 1, pointRadius: 0, order: 0},
    lineDs(td4Data, '#00bfbf', 1, 1),
    lineDs(td3Data, '#ff0000', 2, 1),
    lineDs(td2Data, '#008000', 3, 1),
    lineDs(td1Data, '#0000ff', 4, 1)
  ]},
  options: options(-50, 50, tdiTicks, 72, 59),
  plugins: [framePlugin]
});
</script>
</body></html>
